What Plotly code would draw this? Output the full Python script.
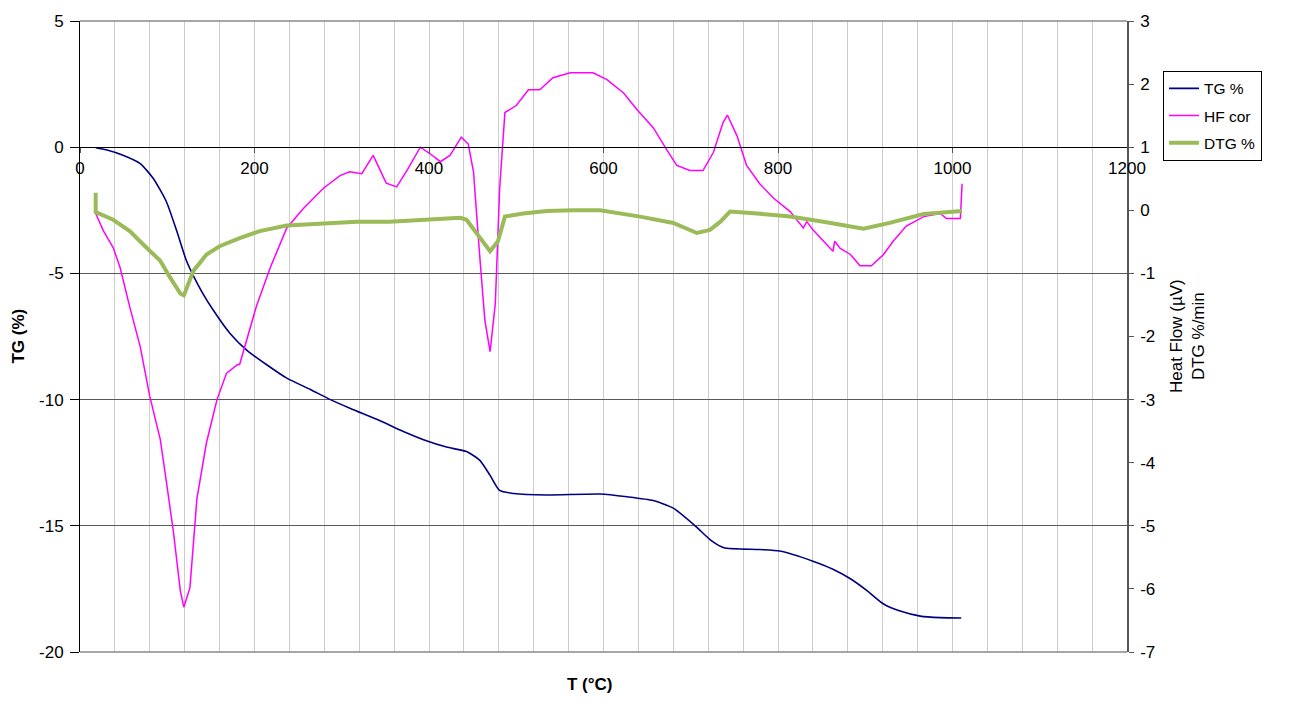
import plotly.graph_objects as go

# Temperature (°C) and TG mass change (%)
tg_T = [18, 30, 50, 69, 84, 99, 111, 122, 130, 140, 153, 172, 191, 214, 237, 264, 287, 310,
        344, 370, 397, 420, 443, 458, 470, 481, 497, 535, 596, 627, 657, 680, 705, 724, 738,
        779, 802, 840, 863, 883, 902, 921, 940, 963, 986, 1010]
tg_val = [-0.02, -0.10, -0.33, -0.65, -1.24, -2.16, -3.33, -4.5, -5.1, -5.75, -6.47, -7.38, -8.04,
          -8.62, -9.15, -9.6, -10.0, -10.35, -10.84, -11.25, -11.63, -11.88, -12.06, -12.4, -13.0,
          -13.6, -13.72, -13.78, -13.74, -13.85, -14.0, -14.3, -15.0, -15.6, -15.87, -15.94, -16.0,
          -16.4, -16.72, -17.1, -17.57, -18.1, -18.38, -18.58, -18.64, -18.65]

# Corrected heat flow (µV)
hf_T = [18, 27, 38, 46, 57, 69, 80, 92, 99, 107, 115, 119, 126, 134, 145, 157, 168, 180, 183, 191,
        202, 218, 237, 256, 279, 298, 309, 323, 336, 351, 363, 376, 390, 401, 413, 424, 437, 445,
        451, 458, 464, 470, 476, 481, 487, 500, 514, 527, 542, 562, 588, 604, 623, 638, 657, 672,
        684, 699, 714, 726, 737, 742, 753, 764, 779, 795, 814, 829, 833, 840, 855, 863, 865, 871,
        883, 894, 907, 921, 932, 947, 967, 986, 993, 1009, 1011]
hf_val = [-0.05, -0.33, -0.59, -0.91, -1.53, -2.16, -2.95, -3.63, -4.30, -5.09, -6.03, -6.29, -5.98,
          -4.57, -3.68, -3.0, -2.58, -2.45, -2.44, -2.06, -1.53, -0.91, -0.28, 0.03, 0.35, 0.55,
          0.61, 0.58, 0.87, 0.43, 0.37, 0.66, 1.0, 0.90, 0.77, 0.87, 1.16, 1.05, 0.61, -0.70,
          -1.74, -2.24, -1.48, 0.35, 1.55, 1.66, 1.91, 1.91, 2.10, 2.18, 2.18, 2.07, 1.86, 1.60,
          1.31, 0.97, 0.71, 0.63, 0.63, 0.92, 1.39, 1.51, 1.18, 0.71, 0.42, 0.19, -0.02, -0.28,
          -0.18, -0.31, -0.54, -0.65, -0.49, -0.6, -0.70, -0.88, -0.88, -0.70, -0.49, -0.25,
          -0.10, -0.05, -0.13, -0.13, 0.42]

# Derivative of mass loss (%/min)
dtg_T = [18, 18, 38, 57, 76, 92, 103, 115, 119, 130, 145, 160, 183, 206, 237, 264, 279, 317, 355,
         393, 436, 443, 455, 470, 479, 487, 508, 535, 565, 596, 642, 680, 707, 722, 734, 745, 776,
         814, 852, 890, 898, 928, 967, 1011]
dtg_val = [0.28, -0.03, -0.15, -0.33, -0.59, -0.80, -1.06, -1.32, -1.35, -0.96, -0.70, -0.57,
           -0.44, -0.33, -0.24, -0.22, -0.22, -0.18, -0.18, -0.15, -0.12, -0.15, -0.38, -0.65,
           -0.49, -0.10, -0.05, -0.01, 0.0, 0.0, -0.1, -0.2, -0.36, -0.31, -0.18, -0.02, -0.05,
           -0.1, -0.18, -0.28, -0.29, -0.2, -0.06, -0.01]

# Axis ticks (labels use a plain hyphen for negatives)
x_ticks = [0, 200, 400, 600, 800, 1000, 1200]
tg_ticks = [5, 0, -5, -10, -15, -20]
right_ticks = [3, 2, 1, 0, -1, -2, -3, -4, -5, -6, -7]


def hyphen_labels(values):
    return [str(v).replace("−", "-") for v in values]


FONT = "Liberation Sans, Arial, sans-serif"

fig = go.Figure()
fig.add_trace(go.Scatter(x=tg_T, y=tg_val, name="TG %", mode="lines", legendgroup="tg",
                         line=dict(color="#000080", width=1.6, shape="spline", smoothing=0.6)))
fig.add_trace(go.Scatter(x=hf_T, y=hf_val, name="HF cor", mode="lines", yaxis="y2",
                         legendgroup="hf", line=dict(color="#FF00FF", width=1.5)))
fig.add_trace(go.Scatter(x=dtg_T, y=dtg_val, name="DTG %", mode="lines", yaxis="y2",
                         legendgroup="dtg", line=dict(color="#9BBB59", width=4)))

fig.update_layout(
    width=1292, height=702,
    margin=dict(l=80, r=165, t=14, b=50),
    paper_bgcolor="white", plot_bgcolor="white",
    font=dict(family=FONT, size=17, color="black"),
    xaxis=dict(range=[0, 1200], tickvals=x_ticks, ticktext=hyphen_labels(x_ticks),
               anchor="free", position=0.8,
               showline=True, linecolor="black", linewidth=1,
               ticks="outside", ticklen=5, tickcolor="#555",
               showgrid=True, gridcolor="#cccccc", gridwidth=1, zeroline=False,
               minor=dict(dtick=40, tick0=0, showgrid=True, gridcolor="#cccccc", gridwidth=1),
               tickfont=dict(size=17)),
    yaxis=dict(range=[-20, 5], tickvals=tg_ticks, ticktext=hyphen_labels(tg_ticks),
               showline=True, linecolor="black", linewidth=1,
               ticks="outside", ticklen=9, tickcolor="black", ticklabelstandoff=3,
               showgrid=True, gridcolor="#5a5a5a", gridwidth=1, zeroline=False,
               tickfont=dict(size=17)),
    yaxis2=dict(range=[-7, 3], tickvals=right_ticks, ticktext=hyphen_labels(right_ticks),
                overlaying="y", side="right", anchor="x",
                showline=True, linecolor="#555", linewidth=1.5,
                ticks="outside", ticklen=5, tickcolor="#555", ticklabelstandoff=3,
                showgrid=False, zeroline=False, tickfont=dict(size=17)),
    legend=dict(x=1.0344, xanchor="left", y=0.921, yanchor="top",
                bordercolor="black", borderwidth=1, bgcolor="white",
                font=dict(size=15.5), tracegroupgap=4),
    shapes=[
        dict(type="line", xref="paper", yref="paper", x0=0, x1=1, y0=1, y1=1,
             line=dict(color="#888888", width=1.5)),
        dict(type="line", xref="paper", yref="paper", x0=0, x1=1, y0=0, y1=0,
             line=dict(color="#888888", width=1.5)),
    ],
    annotations=[
        dict(text="<b>T (°C)</b>", xref="paper", yref="paper", x=0.487, y=-0.0517,
             xanchor="center", yanchor="middle", showarrow=False, font=dict(size=17)),
        dict(text="<b>TG (%)</b>", xref="paper", yref="paper", x=-0.0592, y=0.5,
             xanchor="center", yanchor="middle", textangle=-90, showarrow=False,
             font=dict(size=17)),
        dict(text="Heat Flow (µV)<br>DTG %/min", xref="paper", yref="paper", x=1.0578, y=0.5,
             xanchor="center", yanchor="middle", textangle=-90, showarrow=False,
             font=dict(size=17)),
    ],
)

fig.write_html("out.html")
